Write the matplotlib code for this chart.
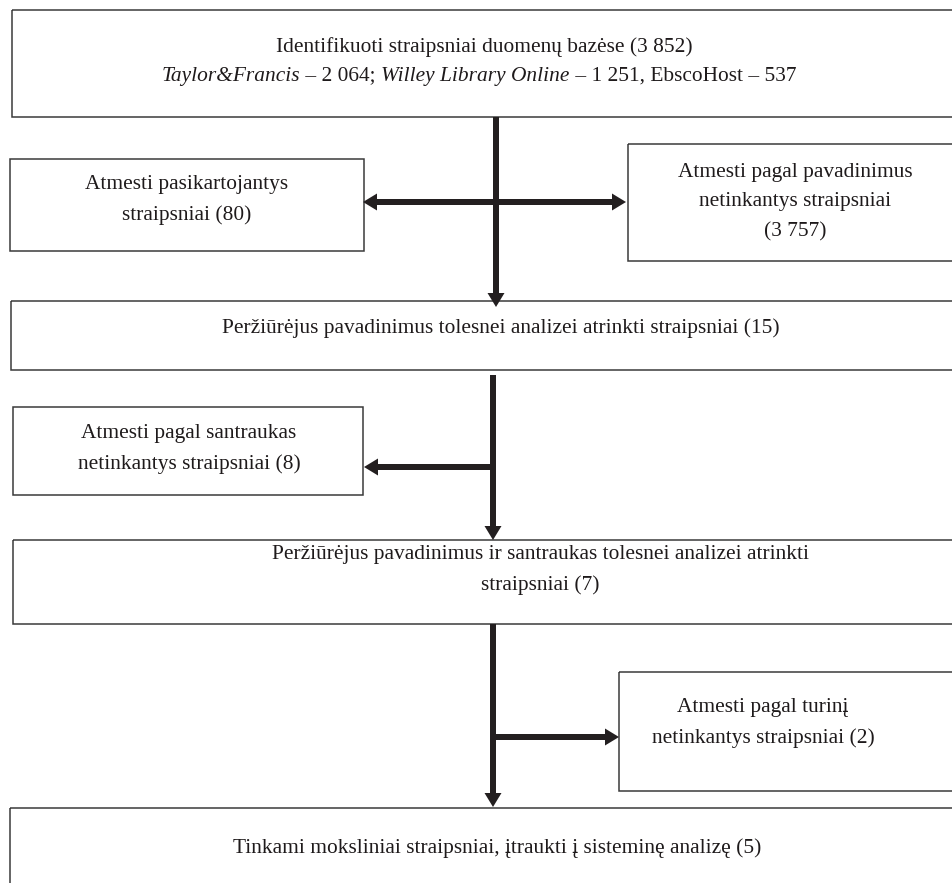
import matplotlib
matplotlib.use('Agg')
import matplotlib.pyplot as plt
from matplotlib.patches import Rectangle

# data: counts at each step of the article selection
found_total = 3852
sources = ['Taylor&Francis', 'Willey Library Online', 'EbscoHost']
source_counts = [2064, 1251, 537]
source_italic = [True, True, False]
dropped_dupes = 80
dropped_titles = 3757
kept_titles = 15
dropped_abstracts = 8
kept_abstracts = 7
dropped_content = 2
final_count = 5


def num(n):
    # lithuanian style thousands separator (space)
    return '{:,}'.format(n).replace(',', ' ')


plt.rcParams['font.family'] = ['Liberation Serif', 'DejaVu Serif']
FS = 15.4
EDGE = '#3a3a3a'
ARROW = '#231f20'
TXT = '#1e1a1b'

fig = plt.figure(figsize=(9.52, 8.83), dpi=100)
ax = fig.add_axes([0, 0, 1, 1])
ax.set_xlim(0, 952)
ax.set_ylim(883, 0)
ax.axis('off')


def box(x0, y0, x1, y1):
    ax.add_patch(Rectangle((x0, y0), x1 - x0, y1 - y0, fill=False,
                           edgecolor=EDGE, linewidth=1.1))


def label(x, y, s):
    ax.text(x, y, s, ha='center', va='center', fontsize=FS,
            linespacing=1.75, color=TXT)


def arrow(x0, y0, x1, y1):
    ax.arrow(x0, y0, x1 - x0, y1 - y0, width=6, head_width=17,
             head_length=14, length_includes_head=True, color=ARROW,
             linewidth=0)


# boxes
box(12, 10, 960, 117)
box(10, 159, 364, 251)
box(628, 144, 960, 261)
box(11, 301, 960, 370)
box(13, 407, 363, 495)
box(13, 540, 960, 624)
box(619, 672, 960, 791)
box(10, 808, 960, 900)

# text
label(484, 47, 'Identifikuoti straipsniai duomenų bazėse ({})'.format(num(found_total)))

# second line of first box: mixed italic / roman pieces
pieces = []
for i, (src, cnt) in enumerate(zip(sources, source_counts)):
    pieces.append([src, source_italic[i]])
    sep = '; ' if i == 0 else (', ' if i == 1 else '')
    pieces.append([' – ' + num(cnt) + sep, False])
merged = [pieces[0]]
for s, it in pieces[1:]:
    if it == merged[-1][1]:
        merged[-1][0] += s
    else:
        merged.append([s, it])

fig.canvas.draw()
rend = fig.canvas.get_renderer()
objs = []
for s, it in merged:
    t = ax.text(0, 76, s, ha='left', va='center', fontsize=FS,
                style='italic' if it else 'normal', color=TXT)
    objs.append(t)
widths = []
inv = ax.transData.inverted()
for t in objs:
    bb = t.get_window_extent(renderer=rend)
    p0 = inv.transform((bb.x0, bb.y0))
    p1 = inv.transform((bb.x1, bb.y0))
    widths.append(p1[0] - p0[0])
x = 479 - sum(widths) / 2
for t, w in zip(objs, widths):
    t.set_x(x)
    x += w

label(187, 200, 'Atmesti pasikartojantys\nstraipsniai ({})'.format(dropped_dupes))
label(795, 202, 'Atmesti pagal pavadinimus\nnetinkantys straipsniai\n({})'.format(num(dropped_titles)))
label(501, 328, 'Peržiūrėjus pavadinimus tolesnei analizei atrinkti straipsniai ({})'.format(kept_titles))
label(189, 449, 'Atmesti pagal santraukas\nnetinkantys straipsniai ({})'.format(dropped_abstracts))
label(540, 570, 'Peržiūrėjus pavadinimus ir santraukas tolesnei analizei atrinkti\nstraipsniai ({})'.format(kept_abstracts))
label(763, 723, 'Atmesti pagal turinį\nnetinkantys straipsniai ({})'.format(dropped_content))
label(497, 848, 'Tinkami moksliniai straipsniai, įtraukti į sisteminę analizę ({})'.format(final_count))

# arrows
arrow(496, 117, 496, 307)
arrow(496, 202, 363, 202)
arrow(496, 202, 626, 202)
arrow(493, 375, 493, 540)
arrow(493, 467, 364, 467)
arrow(493, 624, 493, 807)
arrow(493, 737, 619, 737)

fig.savefig('out.png', dpi=100, facecolor='white')
